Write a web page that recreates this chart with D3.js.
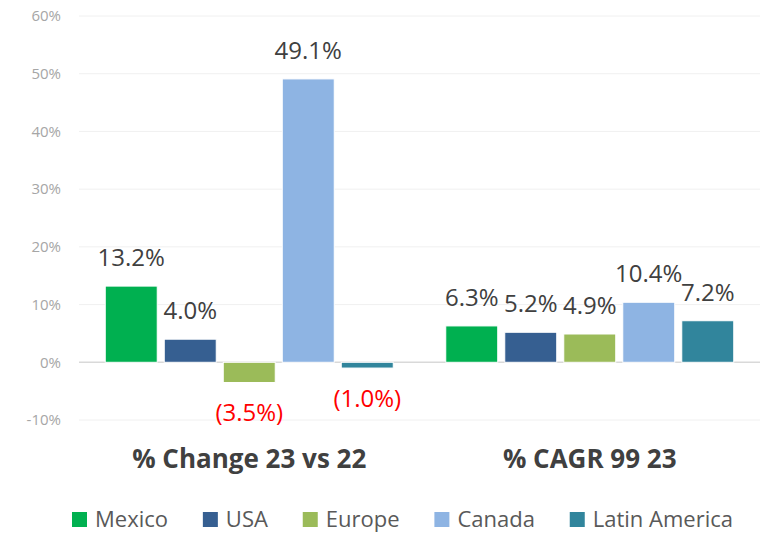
<!DOCTYPE html>
<html>
<head>
<meta charset="utf-8">
<script src="https://cdn.jsdelivr.net/npm/d3@7"></script>
<style>
  body { margin: 0; background: #fff; }
  text { font-family: "Open Sans", sans-serif; }
</style>
</head>
<body>
<script>
// chart data
const groups = ["% Change 23 vs 22", "% CAGR 99 23"];
const regions = ["Mexico", "USA", "Europe", "Canada", "Latin America"];
const colors = ["#00b050", "#365f91", "#9bbb59", "#8eb4e3", "#31859c"];
const changeValues = [13.2, 4.0, -3.5, 49.1, -1.0];
const cagrValues = [6.3, 5.2, 4.9, 10.4, 7.2];
const yTicks = [-10, 0, 10, 20, 30, 40, 50, 60];

const width = 769, height = 534;
const margin = { left: 79, right: 9, top: 16, bottom: 114 };
const groupSpan = 288;

const svg = d3.select("body").append("svg")
  .attr("width", width)
  .attr("height", height);

const y = d3.scaleLinear()
  .domain([-10, 60])
  .range([height - margin.bottom, margin.top]);

const x0 = d3.scaleBand()
  .domain(groups)
  .range([margin.left, width - margin.right]);

const x1 = d3.scaleBand()
  .domain(regions)
  .range([0, groupSpan])
  .paddingInner(0.119);

// grid lines
svg.append("g")
  .selectAll("line")
  .data(yTicks)
  .join("line")
  .attr("x1", margin.left)
  .attr("x2", width - margin.right)
  .attr("y1", d => y(d))
  .attr("y2", d => y(d))
  .style("stroke", d => d === 0 ? "#d9d9d9" : "#f0f0f0")
  .style("stroke-width", d => d === 0 ? 1.5 : 1);

// y axis labels
svg.append("g")
  .selectAll("text")
  .data(yTicks)
  .join("text")
  .attr("x", 61)
  .attr("y", d => y(d))
  .attr("dy", "0.35em")
  .attr("text-anchor", "end")
  .style("font-size", "15px")
  .style("fill", "#a6a6a6")
  .text(d => d + "%");

const rows = groups.map((g, i) => ({
  group: g,
  values: regions.map((r, j) => ({ region: r, value: i === 0 ? changeValues[j] : cagrValues[j], color: colors[j] }))
}));

const fmt = v => v < 0 ? "(" + Math.abs(v).toFixed(1) + "%)" : v.toFixed(1) + "%";

const grp = svg.append("g")
  .selectAll("g")
  .data(rows)
  .join("g")
  .attr("transform", d => `translate(${x0(d.group) + (x0.bandwidth() - groupSpan) / 2},0)`);

grp.selectAll("rect")
  .data(d => d.values)
  .join("rect")
  .attr("x", d => x1(d.region))
  .attr("y", d => y(Math.max(0, d.value)))
  .attr("width", x1.bandwidth())
  .attr("height", d => Math.abs(y(d.value) - y(0)))
  .style("fill", d => d.color)
  .style("stroke", "#ffffff")
  .style("stroke-width", 1);

grp.selectAll("text.lbl")
  .data(d => d.values)
  .join("text")
  .attr("class", "lbl")
  .attr("x", d => x1(d.region) + x1.bandwidth() / 2)
  .attr("y", d => d.value < 0 ? y(d.value) + 39 : y(d.value) - 20)
  .attr("text-anchor", "middle")
  .style("font-size", "24px")
  .style("fill", d => d.value < 0 ? "#ff0000" : "#404040")
  .text(d => fmt(d.value));

// category labels
svg.append("g")
  .selectAll("text")
  .data(groups)
  .join("text")
  .attr("x", d => x0(d) + x0.bandwidth() / 2)
  .attr("y", 468)
  .attr("text-anchor", "middle")
  .style("font-size", "26px")
  .style("font-weight", "bold")
  .style("fill", "#404040")
  .text(d => d);

// legend
const legend = svg.append("g");
const items = legend.selectAll("g")
  .data(regions)
  .join("g");
items.append("rect")
  .attr("width", 15)
  .attr("height", 15)
  .attr("y", 512)
  .style("fill", (d, i) => colors[i]);
items.append("text")
  .attr("x", 23)
  .attr("y", 527)
  .style("font-size", "22px")
  .style("fill", "#595959")
  .text(d => d);

const legendLeft = 72, legendRight = 733;
const widths = [];
items.each(function() {
  widths.push(23 + d3.select(this).select("text").node().getComputedTextLength());
});
const gap = (legendRight - legendLeft - d3.sum(widths)) / (regions.length - 1);
let cx = legendLeft;
const offsets = widths.map(w => { const o = cx; cx += w + gap; return o; });
items.attr("transform", (d, i) => `translate(${offsets[i]},0)`);
</script>
</body>
</html>
